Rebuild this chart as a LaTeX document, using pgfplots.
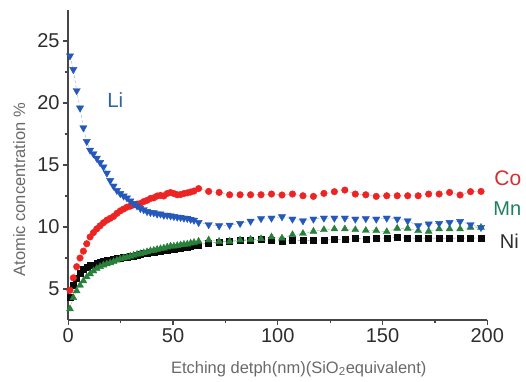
\documentclass[border=0pt]{standalone}
\usepackage{fontspec}
\setmainfont{Liberation Sans}
\usepackage{pgfplots}
\usepackage{pgfplotstable}
\pgfplotsset{compat=1.18}
\definecolor{cored}{RGB}{236,36,36}
\definecolor{liblue}{RGB}{36,88,186}
\definecolor{mngreen}{RGB}{40,128,58}
\definecolor{niblack}{RGB}{10,10,10}
\definecolor{axisgray}{RGB}{70,70,70}
\definecolor{tickgray}{RGB}{45,45,45}
\definecolor{labgray}{RGB}{105,105,105}
\definecolor{lilab}{RGB}{50,100,160}
\definecolor{colab}{RGB}{215,45,50}
\definecolor{mnlab}{RGB}{30,128,90}

\pgfplotstableread{
x y
0.8 4.9
2.4 5.9
4.0 6.8
5.6 7.5
7.2 8.05
8.8 8.65
10.4 9.2
12.0 9.55
13.6 9.85
15.2 10.1
16.8 10.35
18.4 10.55
20.0 10.7
21.6 10.85
23.2 11.1
24.8 11.3
26.4 11.45
28.0 11.6
29.6 11.68
31.2 11.78
32.8 11.85
34.4 11.9
36.0 12.05
37.6 12.15
39.2 12.3
40.8 12.35
42.4 12.5
44.0 12.55
45.6 12.5
47.2 12.7
48.8 12.78
50.4 12.7
52.0 12.6
53.6 12.62
55.2 12.7
56.8 12.75
58.4 12.82
60.0 12.9
62.2 13.1
67 12.87
72 12.79
77 12.6
82 12.6
87 12.6
92 12.6
97 12.66
102 12.58
107 12.66
112 12.52
117 12.47
122 12.71
127 12.85
132 12.98
137 12.66
142 12.6
147 12.47
152 12.52
157 12.52
162 12.52
167 12.52
172 12.66
177 12.66
182 12.79
187 12.58
192 12.85
197 12.87
}\Co

\pgfplotstableread{
x y
0.8 23.8
2.4 22.7
4.0 21.0
5.6 19.6
7.2 18.0
8.8 16.9
10.4 16.2
12.0 15.9
13.6 15.55
15.2 15.2
16.8 14.85
18.4 14.35
20.0 13.75
21.6 13.3
23.2 12.95
24.8 12.7
26.4 12.5
28.0 12.35
29.6 12.1
31.2 11.9
32.8 11.7
34.4 11.5
36.0 11.4
37.6 11.25
39.2 11.18
40.8 11.15
42.4 11.05
44.0 11.05
45.6 10.95
47.2 10.95
48.8 10.9
50.4 10.85
52.0 10.8
53.6 10.78
55.2 10.72
56.8 10.7
58.4 10.62
60.0 10.55
62.2 10.37
67 10.19
72 10.1
77 10.15
82 10.29
87 10.47
92 10.68
97 10.72
102 10.83
107 10.64
112 10.5
117 10.64
122 10.72
127 10.72
132 10.72
137 10.64
142 10.68
147 10.64
152 10.72
157 10.64
162 10.5
167 10.1
172 10.24
177 10.29
182 10.37
187 10.45
192 10.19
197 9.97
}\Li

\pgfplotstableread{
x y
0.8 3.4
2.4 4.3
4.0 4.85
5.6 5.3
7.2 5.65
8.8 5.97
10.4 6.22
12.0 6.45
13.6 6.65
15.2 6.8
16.8 6.93
18.4 7.02
20.0 7.1
21.6 7.2
23.2 7.32
24.8 7.42
26.4 7.5
28.0 7.56
29.6 7.64
31.2 7.72
32.8 7.8
34.4 7.85
36.0 7.92
37.6 8.0
39.2 8.08
40.8 8.12
42.4 8.2
44.0 8.25
45.6 8.3
47.2 8.38
48.8 8.45
50.4 8.45
52.0 8.5
53.6 8.55
55.2 8.6
56.8 8.62
58.4 8.7
60.0 8.75
62.2 8.84
67 8.95
72 8.84
77 8.84
82 8.95
87 9.0
92 9.05
97 9.2
102 9.1
107 9.38
112 9.48
117 9.65
122 9.78
127 9.84
132 9.84
137 9.78
142 9.72
147 9.7
152 9.62
157 9.89
162 9.89
167 9.7
172 9.65
177 9.84
182 9.84
187 9.84
192 9.97
197 9.97
}\Mn

\pgfplotstableread{
x y
0.8 4.3
2.4 5.3
4.0 5.85
5.6 6.3
7.2 6.6
8.8 6.75
10.4 6.88
12.0 6.95
13.6 7.1
15.2 7.15
16.8 7.25
18.4 7.3
20.0 7.35
21.6 7.42
23.2 7.48
24.8 7.5
26.4 7.55
28.0 7.55
29.6 7.62
31.2 7.65
32.8 7.7
34.4 7.78
36.0 7.85
37.6 7.9
39.2 7.95
40.8 8.0
42.4 8.02
44.0 8.05
45.6 8.1
47.2 8.15
48.8 8.2
50.4 8.2
52.0 8.28
53.6 8.32
55.2 8.38
56.8 8.4
58.4 8.45
60.0 8.5
62.2 8.57
67 8.71
72 8.76
77 8.84
82 8.9
87 8.95
92 8.98
97 8.9
102 8.84
107 8.9
112 8.9
117 8.95
122 8.95
127 8.98
132 8.98
137 9.08
142 9.05
147 9.1
152 9.1
157 9.16
162 9.1
167 9.1
172 9.1
177 9.1
182 9.1
187 9.1
192 9.1
197 9.1
}\Ni

\begin{document}
\begin{tikzpicture}
\useasboundingbox (-68.3pt,-61pt) rectangle (457.7pt,320pt);
\begin{axis}[
  at={(0,0)}, anchor=south west,
  scale only axis, width=419pt, height=310pt,
  xmin=0, xmax=200, ymin=2.5, ymax=27.5,
  axis lines*=left,
  axis line style={line width=1.6pt, color=axisgray},
  xtick={0,50,...,200}, ytick={5,10,...,25},
  minor x tick num=1, minor y tick num=1,
  tick align=outside, major tick length=5pt, minor tick length=3pt,
  every tick/.style={line width=1.2pt, color=axisgray},
  /pgf/number format/assume math mode=true,
  tick label style={font=\fontsize{20}{20}\selectfont, color=tickgray},
  xticklabel style={anchor=north, inner sep=0pt, yshift=-3pt},
  yticklabel style={anchor=east, inner sep=0pt, xshift=-3.5pt},
  clip=false,
  xlabel={Etching detph(nm)(SiO\textsubscript{2}equivalent)},
  ylabel={Atomic concentration \%},
  xlabel style={at={(axis description cs:0.55,-0.172)}, anchor=base, font=\fontsize{16.5}{16.5}\selectfont, color=labgray},
  ylabel style={at={(axis description cs:-0.117,0.42)}, anchor=center, font=\fontsize{16.5}{16.5}\selectfont, color=labgray},
]
\addplot[draw=niblack!50, line width=0.4pt, densely dashed, mark=square*, mark size=3pt, mark options={solid, fill=niblack, draw=niblack}] table[x=x,y=y] {\Ni};
\addplot[draw=mngreen!50, line width=0.4pt, densely dashed, mark=triangle*, mark size=4pt, mark options={solid, fill=mngreen, draw=mngreen}] table[x=x,y=y] {\Mn};
\addplot[draw=cored!50, line width=0.4pt, densely dashed, mark=*, mark size=3.3pt, mark options={solid, fill=cored, draw=cored}] table[x=x,y=y] {\Co};
\addplot[draw=liblue!50, line width=0.4pt, densely dashed, mark=triangle*, mark size=4.2pt, mark options={solid, rotate=180, fill=liblue, draw=liblue}] table[x=x,y=y] {\Li};
\node[anchor=base west, inner sep=0pt, text=lilab, font=\fontsize{20.5}{20.5}\selectfont] at (axis cs:18.5,19.6) {Li};
\node[anchor=base west, inner sep=0pt, text=colab, font=\fontsize{21}{21}\selectfont] at (axis cs:203.3,13.33) {Co};
\node[anchor=base west, inner sep=0pt, text=mnlab, font=\fontsize{20}{20}\selectfont] at (axis cs:202.8,10.9) {Mn};
\node[anchor=base west, inner sep=0pt, text=niblack!85, font=\fontsize{20}{20}\selectfont] at (axis cs:205.9,8.25) {Ni};
\end{axis}
\end{tikzpicture}
\end{document}
